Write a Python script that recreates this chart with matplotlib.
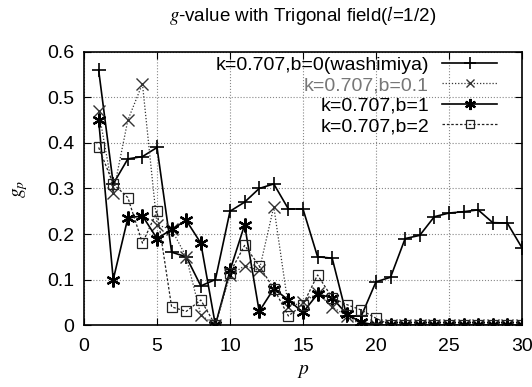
import numpy as np
import matplotlib
matplotlib.use('Agg')
import matplotlib.pyplot as plt

plt.rcParams['font.family'] = ['Liberation Sans', 'DejaVu Sans']
plt.rcParams['mathtext.fontset'] = 'stix'

p = list(range(1, 31))

g_b0 = [0.56, 0.31, 0.365, 0.37, 0.39, 0.16, 0.15, 0.086, 0.10, 0.25,
        0.27, 0.30, 0.31, 0.255, 0.255, 0.15, 0.147, 0.02, 0.02, 0.095,
        0.105, 0.19, 0.197, 0.238, 0.246, 0.249, 0.253, 0.225, 0.224, 0.17]
g_b01 = [0.47, 0.29, 0.45, 0.53, 0.22, 0.21, 0.15, 0.022, 0.0, 0.11,
         0.13, 0.12, 0.26, 0.04, 0.05, 0.07, 0.04, 0.02, 0.0, 0.0,
         0.0, 0.0, 0.0, 0.0, 0.0, 0.0, 0.0, 0.0, 0.0, 0.0]
g_b1 = [0.45, 0.10, 0.235, 0.24, 0.19, 0.21, 0.23, 0.18, 0.0, 0.12,
        0.22, 0.03, 0.08, 0.055, 0.028, 0.068, 0.06, 0.024, 0.006, 0.0,
        0.0, 0.0, 0.0, 0.0, 0.0, 0.0, 0.0, 0.0, 0.0, 0.0]
g_b2 = [0.39, 0.31, 0.28, 0.18, 0.25, 0.04, 0.03, 0.055, 0.0, 0.115,
        0.175, 0.13, 0.08, 0.02, 0.045, 0.11, 0.06, 0.045, 0.033, 0.015,
        0.0, 0.0, 0.0, 0.0, 0.0, 0.0, 0.0, 0.0, 0.0, 0.0]

labels = ['k=0.707,b=0(washimiya)', 'k=0.707,b=0.1', 'k=0.707,b=1', 'k=0.707,b=2']

fig = plt.figure(figsize=(5.32, 3.87), dpi=100)
ax = fig.add_axes([0.158, 0.160, 0.823, 0.706])

ax.plot(p, g_b0, color='black', lw=1.2, marker='+', ms=10, mew=1.2, label=labels[0])
ax.plot(p, g_b01, color='#333333', lw=0.9, ls=(0, (1, 1.5)), marker='x', ms=8, mew=1.0, label=labels[1])
ax.plot(p, g_b1, color='black', lw=1.2, marker=(6, 2, 0), ms=10, mew=1.6, label=labels[2])
ax.plot(p, g_b2, color='#222222', lw=0.9, ls=(0, (2, 1.5)), marker='s', ms=7, mew=0.9,
        mfc='none', label=labels[3])

ax.set_xlim(0, 30)
ax.set_ylim(0, 0.6)
ax.set_xticks([0, 5, 10, 15, 20, 25, 30])
ax.set_yticks([0, 0.1, 0.2, 0.3, 0.4, 0.5, 0.6])
ax.set_yticklabels(['0', '0.1', '0.2', '0.3', '0.4', '0.5', '0.6'])
ax.tick_params(direction='in', top=True, right=True, labelsize=14, length=5)
ax.tick_params(axis='x', pad=9)
ax.tick_params(axis='y', pad=7)
ax.grid(True, ls=':', color='#888888', lw=0.8)
for s in ax.spines.values():
    s.set_linewidth(1.2)

ax.set_xlabel('$p$', fontsize=14, labelpad=6)
ax.set_ylabel('$g_p$', fontsize=14, labelpad=12)
ax.set_title(r'$g$-value with Trigonal field($l$=1/2)', fontsize=13.5, pad=22)

leg = ax.legend(loc='upper right', bbox_to_anchor=(0.943, 0.985), frameon=False,
                markerfirst=False, fontsize=14, handlelength=2.8, handletextpad=0.7,
                labelspacing=0.15, borderaxespad=0.0, borderpad=0.0, markerscale=0.8)
for t in leg.get_texts():
    t.set_ha('right')
leg.get_texts()[1].set_color('#777777')

fig.savefig('out.png', dpi=100)
